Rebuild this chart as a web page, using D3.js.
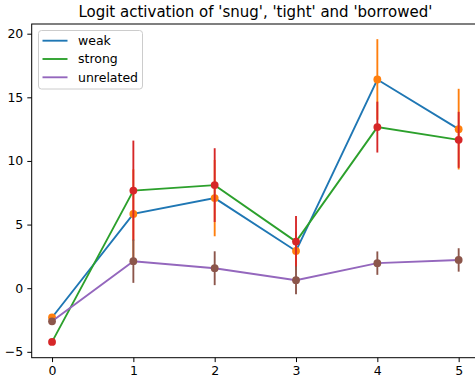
<!DOCTYPE html>
<html>
<head>
<meta charset="utf-8">
<script src="https://cdn.jsdelivr.net/npm/d3@7"></script>
<style>
    body { margin: 0; background: #fff; }
    svg { display: block; font-family: "DejaVu Sans", sans-serif; }
</style>
</head>
<body>
<svg id="chart" width="475" height="379"></svg>
<script>
// Data

const steps = [0, 1, 2, 3, 4, 5];

const weak = [-2.3, 5.84, 7.08, 2.93, 16.4, 12.5];
const weakErr = [0.05, 3.5, 3.0, 1.5, 3.17, 3.17];

const strong = [-4.22, 7.67, 8.1, 3.66, 12.66, 11.66];
const strongErr = [0.05, 3.93, 2.9, 2.02, 2.0, 2.2];

const unrelated = [-2.6, 2.12, 1.57, 0.63, 1.97, 2.22];
const unrelatedErr = [0.05, 1.7, 1.33, 1.1, 0.92, 0.92];

const yTicks = [-5, 0, 5, 10, 15, 20];
const title = "Logit activation of 'snug', 'tight' and 'borrowed'";

const series = [
    { name: 'weak', values: weak, err: weakErr, line: '#1f77b4', marker: '#ff7f0e' },
    { name: 'strong', values: strong, err: strongErr, line: '#2ca02c', marker: '#d62728' },
    { name: 'unrelated', values: unrelated, err: unrelatedErr, line: '#9467bd', marker: '#8c564b' }
];

// Layout

const margin = { left: 31.7, right: 479, top: 24, bottom: 357.7 };
const svg = d3.select('#chart');

// matplotlib style 5% padding on both axes
const xPad = (d3.max(steps) - d3.min(steps)) * 0.05;
const x = d3.scaleLinear()
    .domain([d3.min(steps) - xPad, d3.max(steps) + xPad])
    .range([margin.left, margin.right]);

let lo = Infinity, hi = -Infinity;
series.forEach(s => s.values.forEach((v, i) => {
    lo = Math.min(lo, v - s.err[i]);
    hi = Math.max(hi, v + s.err[i]);
}));
const yPad = (hi - lo) * 0.05;
const y = d3.scaleLinear()
    .domain([lo - yPad, hi + yPad])
    .range([margin.bottom, margin.top]);

const fmt = d => d < 0 ? '\u2212' + Math.abs(d) : String(d);

// Axes

const xAxis = svg.append('g')
    .attr('transform', `translate(0,${margin.bottom})`)
    .call(d3.axisBottom(x).tickValues(steps).tickSize(4.4).tickPadding(4).tickFormat(fmt));

const yAxis = svg.append('g')
    .attr('transform', `translate(${margin.left},0)`)
    .call(d3.axisLeft(y).tickValues(yTicks).tickSize(4.4).tickPadding(4).tickFormat(fmt));

[xAxis, yAxis].forEach(ax => {
    ax.select('.domain').remove();
    ax.selectAll('.tick line').attr('stroke', '#000').attr('stroke-width', 1);
    ax.selectAll('.tick text')
        .attr('fill', '#000')
        .style('font-size', '12.5px')
        .style('font-family', '"DejaVu Sans", sans-serif');
});

svg.append('rect')
    .attr('x', margin.left)
    .attr('y', margin.top)
    .attr('width', margin.right - margin.left)
    .attr('height', margin.bottom - margin.top)
    .attr('fill', 'none')
    .attr('stroke', '#000')
    .attr('stroke-width', 1);

// Lines, error bars and markers, drawn series by series like matplotlib

const line = d3.line()
    .x((d, i) => x(steps[i]))
    .y(d => y(d));

series.forEach(s => {
    svg.append('path')
        .datum(s.values)
        .attr('d', line)
        .attr('fill', 'none')
        .attr('stroke', s.line)
        .attr('stroke-width', 1.875);

    const g = svg.append('g');

    g.selectAll('line')
        .data(s.values)
        .join('line')
        .attr('x1', (d, i) => x(steps[i]))
        .attr('x2', (d, i) => x(steps[i]))
        .attr('y1', (d, i) => y(d - s.err[i]))
        .attr('y2', (d, i) => y(d + s.err[i]))
        .attr('stroke', s.marker)
        .attr('stroke-width', 1.875);

    g.selectAll('circle')
        .data(s.values)
        .join('circle')
        .attr('cx', (d, i) => x(steps[i]))
        .attr('cy', d => y(d))
        .attr('r', 3.9)
        .attr('fill', s.marker);
});

// Title

svg.append('text')
    .attr('x', (margin.left + margin.right) / 2)
    .attr('y', 16.5)
    .attr('text-anchor', 'middle')
    .style('font-size', '15px')
    .text(title);

// Legend

const legend = svg.append('g');

legend.append('rect')
    .attr('x', 38.5)
    .attr('y', 30.5)
    .attr('width', 104)
    .attr('height', 58.5)
    .attr('rx', 3)
    .attr('fill', '#fff')
    .attr('fill-opacity', 0.8)
    .attr('stroke', '#cccccc')
    .attr('stroke-width', 1);

series.forEach((s, i) => {
    const ly = 40.7 + i * 18.3;
    legend.append('line')
        .attr('x1', 42.5).attr('x2', 67.5)
        .attr('y1', ly).attr('y2', ly)
        .attr('stroke', s.line)
        .attr('stroke-width', 1.875);
    legend.append('text')
        .attr('x', 78)
        .attr('y', ly)
        .attr('dy', '0.35em')
        .style('font-size', '12.5px')
        .text(s.name);
});
</script>
</body>
</html>
